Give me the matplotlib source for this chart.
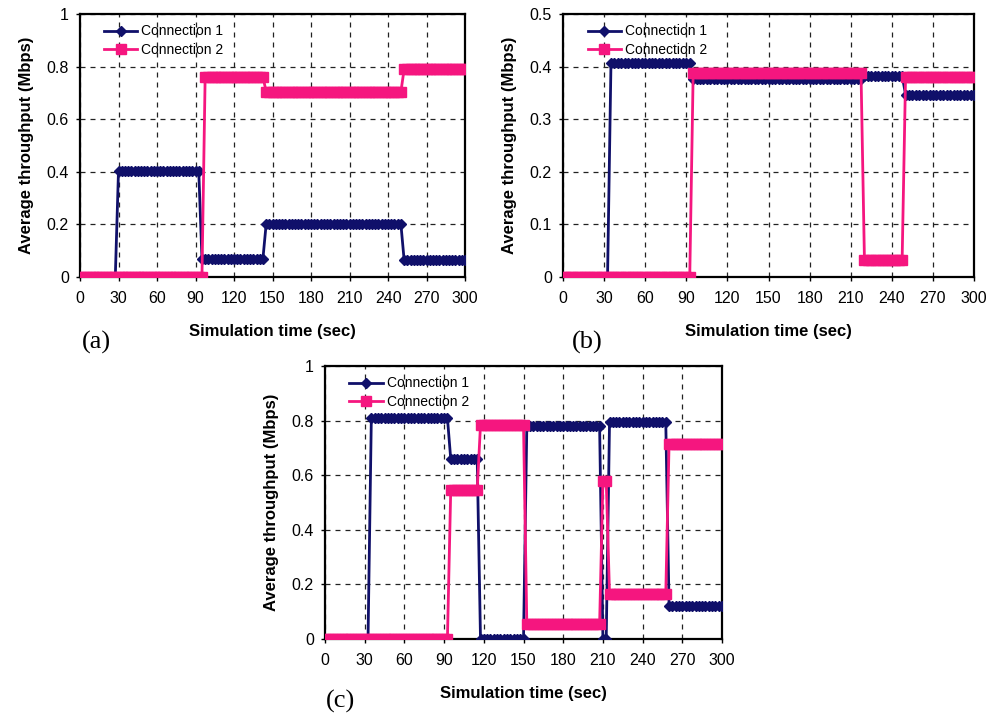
import numpy as np
import matplotlib
matplotlib.use("Agg")
import matplotlib.pyplot as plt

plt.rcParams["font.family"] = ["Liberation Sans", "DejaVu Sans"]

NAVY = "#10106a"
PINK = "#f5167f"

# samples every 2.5 s over the 300 s run
TIME = np.arange(0, 300.1, 2.5)

# each series is a step signal: level i holds for samples with t <= end i
A_C1_ENDS = [27.5, 92.5, 142.5, 250, 300]
A_C1_LEVELS = [0.0, 0.405, 0.07, 0.2, 0.065]
A_C2_ENDS = [95, 142.5, 250, 300]
A_C2_LEVELS = [0.0, 0.762, 0.705, 0.79]

B_C1_ENDS = [32.5, 92.5, 217.5, 247.5, 300]
B_C1_LEVELS = [0.0, 0.406, 0.377, 0.383, 0.347]
B_C2_ENDS = [92.5, 217.5, 247.5, 300]
B_C2_LEVELS = [0.0, 0.388, 0.032, 0.38]

C_C1_ENDS = [32.5, 92.5, 115, 150, 207.5, 212.5, 257.5, 300]
C_C1_LEVELS = [0.0, 0.81, 0.66, 0.0, 0.78, 0.0, 0.795, 0.12]
C_C2_ENDS = [92.5, 115, 150, 207.5, 212.5, 257.5, 300]
C_C2_LEVELS = [0.0, 0.545, 0.785, 0.055, 0.58, 0.165, 0.715]

X_TICKS = [0, 30, 60, 90, 120, 150, 180, 210, 240, 270, 300]


def steps(ends, levels):
    idx = np.searchsorted(ends, TIME, side="left")
    return np.asarray(levels)[np.minimum(idx, len(levels) - 1)]


def draw_panel(ax, c1, c2, ymax, yticks, ylabels, tag, tag_xy):
    ax.plot(TIME, steps(*c1), color=NAVY, lw=2, marker="D",
            ms=5.5, mec=NAVY, mfc=NAVY, label="Connection 1", zorder=3)
    ax.plot(TIME, steps(*c2), color=PINK, lw=2, marker="s",
            ms=6.5, mec=PINK, mfc=PINK, label="Connection 2", zorder=3)
    ax.set_xlim(0, 300)
    ax.set_ylim(0, ymax)
    ax.set_xticks(X_TICKS)
    ax.set_yticks(yticks)
    ax.set_yticklabels(ylabels)
    ax.tick_params(labelsize=11.5, length=3, width=1, direction="out")
    ax.tick_params(axis="x", pad=7)
    ax.tick_params(axis="y", pad=5)
    ax.grid(True, color="#222222", linestyle=(0, (4, 4)), linewidth=0.9)
    for s in ax.spines.values():
        s.set_linewidth(1.6)
        s.set_color("black")
    ax.set_xlabel("Simulation time (sec)", fontsize=12, fontweight="bold",
                  labelpad=13)
    ax.set_ylabel("Average throughput (Mbps)", fontsize=12,
                  fontweight="bold", labelpad=9)
    ax.legend(loc="upper left", bbox_to_anchor=(0.035, 1.0), frameon=False,
              fontsize=10, handlelength=2.4, borderaxespad=0.35,
              labelspacing=0.35, handletextpad=0.3)
    ax.figure.text(tag_xy[0], tag_xy[1], tag, fontsize=19,
                   family="Liberation Serif", ha="center", va="center")


fig = plt.figure(figsize=(9.9, 7.16), dpi=100)
ax_a = fig.add_axes([0.0808, 0.6131, 0.389, 0.3673])
ax_b = fig.add_axes([0.5687, 0.6131, 0.4152, 0.3673])
ax_c = fig.add_axes([0.3283, 0.1075, 0.401, 0.3813])

draw_panel(ax_a, (A_C1_ENDS, A_C1_LEVELS), (A_C2_ENDS, A_C2_LEVELS), 1,
           [0, 0.2, 0.4, 0.6, 0.8, 1], ["0", "0.2", "0.4", "0.6", "0.8", "1"],
           "(a)", (0.097, 0.522))
draw_panel(ax_b, (B_C1_ENDS, B_C1_LEVELS), (B_C2_ENDS, B_C2_LEVELS), 0.5,
           [0, 0.1, 0.2, 0.3, 0.4, 0.5],
           ["0", "0.1", "0.2", "0.3", "0.4", "0.5"],
           "(b)", (0.593, 0.522))
draw_panel(ax_c, (C_C1_ENDS, C_C1_LEVELS), (C_C2_ENDS, C_C2_LEVELS), 1,
           [0, 0.2, 0.4, 0.6, 0.8, 1], ["0", "0.2", "0.4", "0.6", "0.8", "1"],
           "(c)", (0.344, 0.02))

fig.savefig("out.png", dpi=100)
plt.close(fig)
